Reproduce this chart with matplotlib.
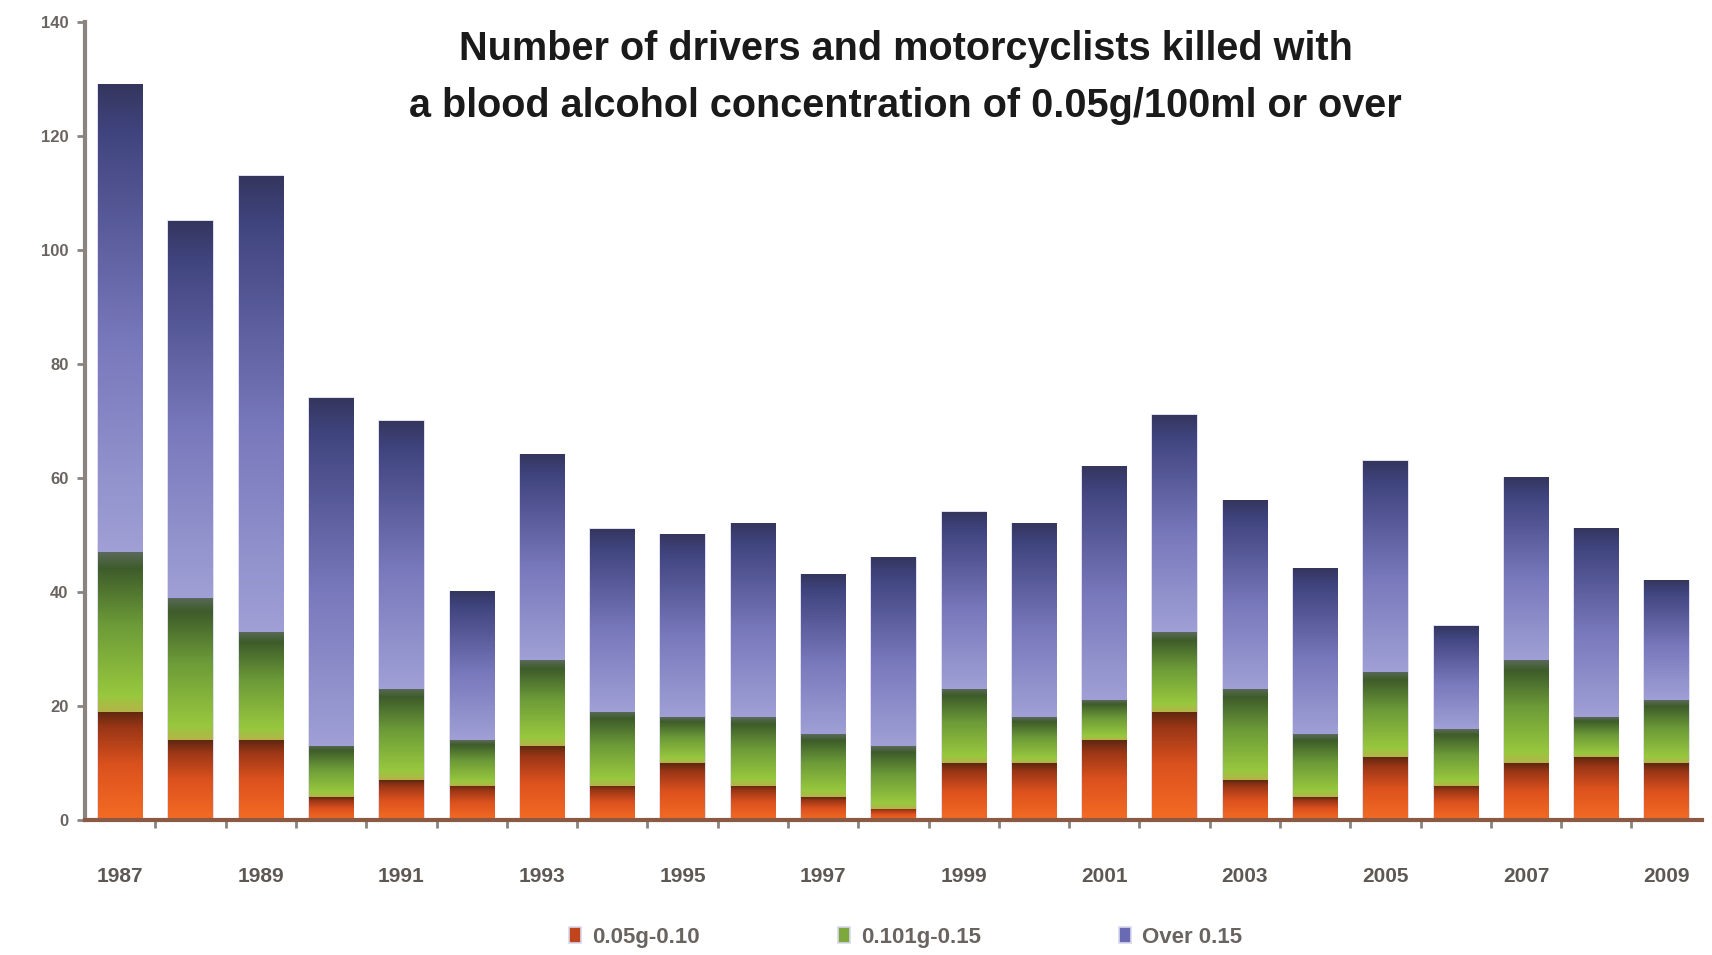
import numpy as np
import matplotlib
matplotlib.use("Agg")
import matplotlib.pyplot as plt
from matplotlib.colors import LinearSegmentedColormap

# data
years = list(range(1987, 2010))
low = [19, 14, 14, 4, 7, 6, 13, 6, 10, 6, 4, 2, 10, 10, 14, 19, 7, 4, 11, 6, 10, 11, 10]
mid = [28, 25, 19, 9, 16, 8, 15, 13, 8, 12, 11, 11, 13, 8, 7, 14, 16, 11, 15, 10, 18, 7, 11]
high = [82, 66, 80, 61, 47, 26, 36, 32, 32, 34, 28, 33, 31, 34, 41, 38, 33, 29, 37, 18, 32, 33, 21]
labels = ["0.05g-0.10", "0.101g-0.15", "Over 0.15"]
title1 = "Number of drivers and motorcyclists killed with"
title2 = "a blood alcohol concentration of 0.05g/100ml or over"

plt.rcParams["font.family"] = ["Liberation Sans", "DejaVu Sans"]

cmaps = [
    LinearSegmentedColormap.from_list("o", [(0, "#f46c24"), (0.5, "#dc521e"), (0.85, "#9a3616"), (1, "#5e2810")]),
    LinearSegmentedColormap.from_list("g", [(0, "#b4b448"), (0.1, "#98c83e"), (0.55, "#6c9a38"), (0.9, "#3e5c2a"), (1, "#5a6a5a")]),
    LinearSegmentedColormap.from_list("b", [(0, "#a0a0d6"), (0.45, "#7878bc"), (0.9, "#40447e"), (1, "#34365e")]),
]
solid = ["#c0441c", "#7ca83c", "#6a6ab4"]

fig = plt.figure(figsize=(17.12, 9.55), dpi=100)
ax = fig.add_axes([0.0497, 0.1414, 0.9443, 0.8356])

x = np.arange(len(years))
low = np.array(low); mid = np.array(mid); high = np.array(high)
bottoms = [np.zeros(len(x)), low, low + mid]
series = [low, mid, high]
conts = []
for s, b, c, lab in zip(series, bottoms, solid, labels):
    conts.append(ax.bar(x, s, bottom=b, width=0.63, color=c, label=lab, zorder=2))

# vertical gradient over each bar segment
grad = np.linspace(0, 1, 256).reshape(-1, 1)
for cont, cm in zip(conts, cmaps):
    for p in cont.patches:
        x0, y0 = p.get_x(), p.get_y()
        ax.imshow(grad, extent=[x0, x0 + p.get_width(), y0, y0 + p.get_height()],
                  origin="lower", aspect="auto", cmap=cm, zorder=3)
        p.set_edgecolor("#d8d8ee")
        p.set_linewidth(1.2)
ax.set_xlim(-0.5, len(x) - 0.5)
ax.set_ylim(0, 140)

for side in ["top", "right"]:
    ax.spines[side].set_visible(False)
ax.spines["left"].set_color("#8a8480")
ax.spines["left"].set_linewidth(3)
ax.spines["bottom"].set_color("#8a5a44")
ax.spines["bottom"].set_linewidth(3)
ax.spines["bottom"].set_zorder(4)

ax.set_yticks(range(0, 141, 20))
ax.tick_params(axis="y", length=6, width=2, color="#8a8480", labelsize=12, labelcolor="#6a6460", pad=6)
for t in ax.get_yticklabels():
    t.set_fontweight("bold")

ax.set_xticks(x[::2])
ax.set_xticklabels([str(y) for y in years[::2]], fontsize=15, fontweight="bold", color="#5e5854")
ax.set_xticks(x[:-1] + 0.5, minor=True)
ax.tick_params(axis="x", which="major", length=0, pad=34)
ax.tick_params(axis="x", which="minor", length=6, width=2, color="#8a8480")

fig.text(0.529, 1 - 49 / 955, title1, ha="center", va="center", fontsize=28.5, fontweight="bold", color="#1a1a1a")
fig.text(0.529, 1 - 106 / 955, title2, ha="center", va="center", fontsize=28.5, fontweight="bold", color="#1a1a1a")

leg = fig.legend(handles=conts, labels=labels, loc="center", bbox_to_anchor=(0.529, 1 - 937 / 955), ncol=3,
                 frameon=False, fontsize=16, handlelength=0.55, handleheight=0.7, columnspacing=6.2, handletextpad=0.5)
for t in leg.get_texts():
    t.set_color("#6a6460")
    t.set_fontweight("bold")

fig.savefig("out.png", dpi=100)
